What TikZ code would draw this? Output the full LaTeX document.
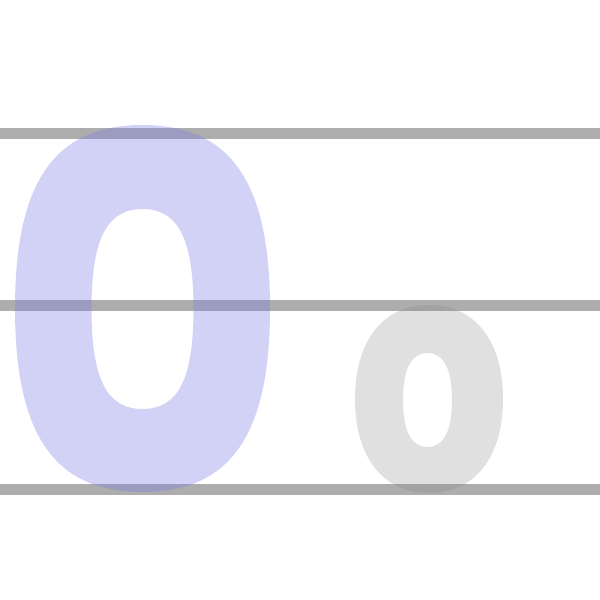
\documentclass[tikz,border=0pt]{standalone}
\usetikzlibrary{calc}
\definecolor{guide}{RGB}{173,173,173}
\definecolor{zeroblue}{RGB}{126,126,234}
\definecolor{ogray}{RGB}{128,128,128}
\newcommand{\ovalpath}[6]{({#1-#3},{#2-#5}) -- ({#1-#3},{#2+#5}) .. controls ({#1-#3},{#2+#5+#6*(#4-#5)}) and ({#1-#6*#3},{#2+#4}) .. ({#1},{#2+#4}) .. controls ({#1+#6*#3},{#2+#4}) and ({#1+#3},{#2+#5+#6*(#4-#5)}) .. ({#1+#3},{#2+#5}) -- ({#1+#3},{#2-#5}) .. controls ({#1+#3},{#2-#5-#6*(#4-#5)}) and ({#1+#6*#3},{#2-#4}) .. ({#1},{#2-#4}) .. controls ({#1-#6*#3},{#2-#4}) and ({#1-#3},{#2-#5-#6*(#4-#5)}) .. cycle}
\tikzset{
  guideline/.style={draw=guide, line width=11pt},
  bigzero/.style={fill=zeroblue, fill opacity=0.34, even odd rule},
  smallo/.style={fill=ogray, fill opacity=0.245, even odd rule}
}
\begin{document}
\begin{tikzpicture}[x=1pt,y=-1pt]
\useasboundingbox (0,0) rectangle (600,600);
\fill[white] (0,0) rectangle (600,600);
% guide lines
\coordinate (capL) at (0,133); \coordinate (capR) at (600,133);
\coordinate (xL) at (0,305); \coordinate (xR) at (600,305);
\coordinate (bL) at (0,489); \coordinate (bR) at (600,489);
\draw[guideline] (capL) -- (capR);
\draw[guideline] (xL) -- (xR);
\draw[guideline] (bL) -- (bR);
% big zero
\fill[bigzero] \ovalpath{142.5}{308.5}{127.5}{183.5}{0}{0.69} \ovalpath{142.5}{309}{51}{100}{0}{0.70};
% small o
\fill[smallo] \ovalpath{429}{399}{74}{94}{0}{0.62} \ovalpath{427.5}{400}{24.5}{47}{0}{0.66};
\end{tikzpicture}
\end{document}
